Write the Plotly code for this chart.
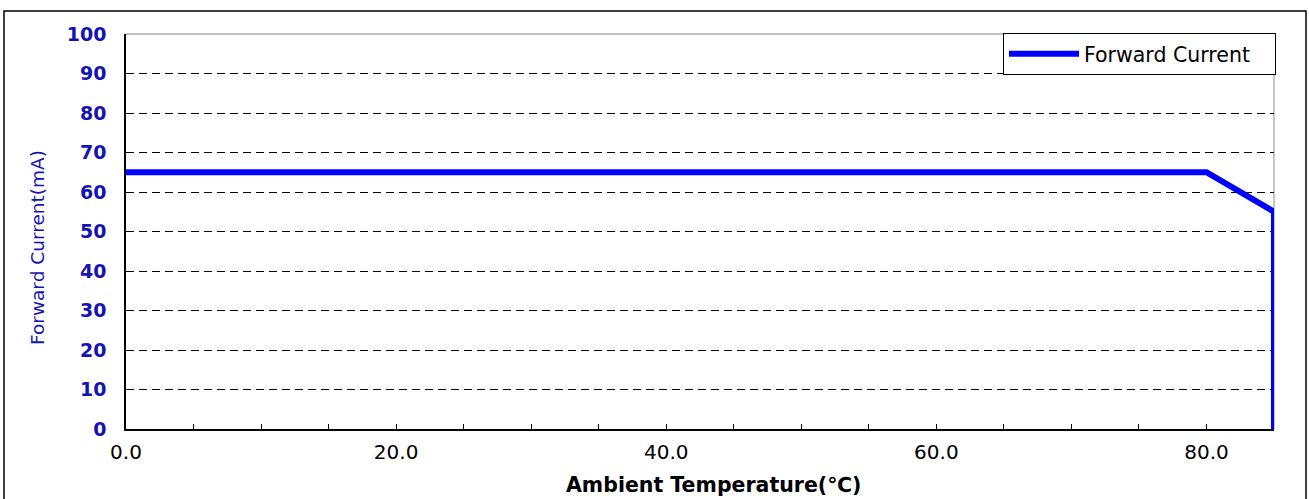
import plotly.graph_objects as go

temperature = [0.0, 80.0, 85.0, 85.0]
forward_current = [65, 65, 55, 0]
x_tick_vals = [0, 20, 40, 60, 80]
x_tick_text = ["0.0", "20.0", "40.0", "60.0", "80.0"]
y_tick_vals = [0, 10, 20, 30, 40, 50, 60, 70, 80, 90, 100]
x_title = "Ambient Temperature(℃)"
y_title = "Forward Current(mA)"
series_name = "Forward Current"

W, H = 1309, 499
L, T = 126, 34
R = W - 1274
B = H - 429
pw, ph = W - L - R, H - T - B

def px(xs):
    return (xs - L) / pw

def py(ys):
    return (H - B - ys) / ph

fig = go.Figure()
fig.add_trace(go.Scatter(
    x=temperature, y=forward_current, mode="lines",
    name=series_name + "\u00a0\u00a0\u00a0",
    line=dict(color="#0000ff", width=6), showlegend=True,
))

fig.update_layout(
    width=W, height=H,
    margin=dict(l=L, r=R, t=T, b=B),
    paper_bgcolor="white", plot_bgcolor="white",
    font=dict(family="DejaVu Sans, Arial", color="black"),
    showlegend=True,
    legend=dict(
        x=px(1276), y=py(33), xanchor="right", yanchor="top",
        bgcolor="white", bordercolor="black", borderwidth=1,
        font=dict(size=20.5, family="DejaVu Sans, Arial", color="black"),
        itemwidth=70, tracegroupgap=0,
    ),
    xaxis=dict(
        range=[0, 85], showgrid=False, zeroline=False,
        showline=True, linecolor="black", linewidth=1.5,
        tickvals=x_tick_vals, ticktext=x_tick_text,
        ticks="inside", ticklen=5, tickcolor="black",
        minor=dict(dtick=5, ticks="inside", ticklen=5, tickcolor="black", showgrid=False),
        tickfont=dict(size=20, color="black", family="DejaVu Sans"),
        ticklabelstandoff=4,
        automargin=False,
    ),
    yaxis=dict(
        range=[0, 100], zeroline=False,
        showgrid=True, gridcolor="black", gridwidth=1, griddash="8px,5px",
        showline=True, linecolor="black", linewidth=1.5,
        tickvals=y_tick_vals,
        ticktext=[f"<b>{v}</b>" for v in y_tick_vals],
        ticks="", tickfont=dict(size=19, color="#1414b4", family="DejaVu Sans"),
        ticklabelstandoff=14,
        automargin=False,
    ),
    annotations=[
        dict(text=f"<b>{x_title}</b>", xref="paper", yref="paper",
             x=px(713), y=py(485), xanchor="center", yanchor="middle",
             showarrow=False, font=dict(size=20.5, color="black", family="DejaVu Sans")),
        dict(text=y_title, xref="paper", yref="paper", textangle=-90,
             x=px(37), y=py(248), xanchor="center", yanchor="middle",
             showarrow=False, font=dict(size=18.5, color="#1414b4", family="DejaVu Sans")),
    ],
    shapes=[
        dict(type="line", xref="paper", yref="paper", x0=0, x1=1, y0=1, y1=1,
             line=dict(color="#808080", width=1.2), layer="above"),
        dict(type="line", xref="paper", yref="paper", x0=1, x1=1, y0=0, y1=1,
             line=dict(color="#a0a0a0", width=1.2), layer="below"),
        dict(type="rect", xref="paper", yref="paper",
             x0=px(4), x1=px(1306), y0=py(11), y1=py(520),
             line=dict(color="black", width=1.5), fillcolor="rgba(0,0,0,0)"),
    ],
)

fig.write_html(
    "out.html",
    config={"displayModeBar": False},
    post_script="document.body.style.margin='0';document.body.style.overflow='hidden';",
)
